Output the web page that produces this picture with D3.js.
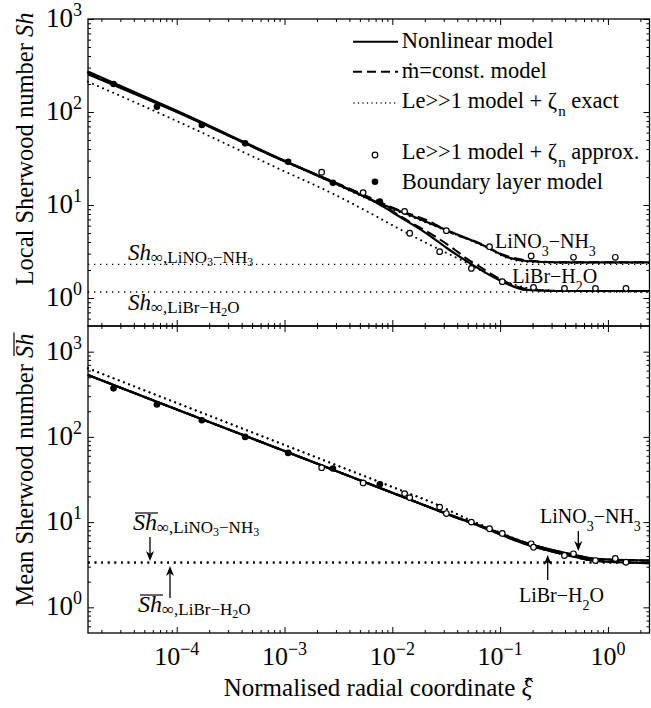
<!DOCTYPE html>
<html><head><meta charset="utf-8">
<script src="https://cdn.jsdelivr.net/npm/d3@7"></script>
<style>
body{margin:0;background:#fff}
svg{display:block}
text{font-family:"Liberation Serif","Times New Roman",serif;fill:#000}
</style>
</head><body>
<svg id="c" width="651" height="708"></svg>
<script>
// ---------------- data ----------------
// Upper panel: local Sherwood number
const xiNonlinNH3 = [1.5e-5, 1e-4, 1e-3, 2.2e-3, 7.1e-3, 0.0145, 0.0317, 0.0744, 0.114, 0.175, 0.355, 2.43];
const shNonlinNH3 = [272, 103, 30, 20, 10.8, 7.8, 5.38, 3.56, 2.78, 2.5, 2.42, 2.42];
const xiNonlinBr = [1.5e-5, 1e-4, 1e-3, 2.2e-3, 7.1e-3, 0.0117, 0.0207, 0.034, 0.056, 0.0857, 0.105, 0.175, 0.35, 2.43];
const shNonlinBr = [255, 100, 29.5, 19.8, 10.6, 7.48, 4.96, 3.28, 2.26, 1.69, 1.5, 1.22, 1.19, 1.19];
const xiConstNH3 = [1.5e-5, 1e-4, 1e-3, 2.2e-3, 7.1e-3, 0.0102, 0.0207, 0.0393, 0.06, 0.1, 0.175, 0.35, 2.43];
const shConstNH3 = [265, 102, 29.8, 20.2, 11.2, 9.3, 6.9, 4.75, 4.03, 3.0, 2.55, 2.43, 2.42];
const xiConstBr = [1.5e-5, 1e-4, 1e-3, 2.2e-3, 7.1e-3, 0.0145, 0.0238, 0.0365, 0.0486, 0.0646, 0.1, 0.175, 0.35, 2.43];
const shConstBr = [262, 101, 29.6, 20, 10.9, 6.6, 4.75, 3.42, 2.67, 2.17, 1.6, 1.25, 1.19, 1.19];
const xiExactBr = [1.5e-5, 1e-4, 1e-3, 2.82e-3, 5.76e-3, 0.0117, 0.0238, 0.0486, 0.0744, 0.122, 0.23, 0.5, 2.43];
const shExactBr = [212, 80, 23, 13.2, 8.6, 5.5, 3.6, 2.4, 1.85, 1.45, 1.23, 1.18, 1.17];
const xiExactNH3 = [1.5e-5, 1e-4, 1e-3, 2.2e-3, 7.1e-3, 0.0145, 0.0317, 0.0744, 0.114, 0.175, 0.355, 2.43];
const shExactNH3 = [268, 101, 29.5, 19.7, 10.6, 7.6, 5.3, 3.5, 2.72, 2.45, 2.38, 2.38];
const shInfLocal = [2.3, 1.16];          // LiNO3-NH3, LiBr-H2O

const xiApproxNH3 = [2.21e-3, 5.36e-3, 0.013, 0.0317, 0.0797, 0.194, 0.479, 1.17];
const shApproxNH3Local = [22.5, 13.6, 8.55, 5.3, 3.56, 2.83, 2.74, 2.74];
const xiApproxBr = [0.0145, 0.0275, 0.0541, 0.1047, 0.204, 0.395, 0.766, 1.47];
const shApproxBrLocal = [4.97, 3.15, 2.08, 1.5, 1.3, 1.27, 1.27, 1.27];
const xiBL = [2.59e-5, 6.55e-5, 1.71e-4, 4.31e-4, 1.08e-3, 2.81e-3, 7.66e-3];
const shBLLocal = [200, 114, 72.4, 46.0, 29.2, 17.3, 10.9];

// Lower panel: mean Sherwood number
const xiMean = [1.5e-5, 1e-4, 1e-3, 2.32e-3, 5.36e-3, 0.0135, 0.0317, 0.0647, 0.186, 0.438, 0.77, 2.43];
const shMeanNonlinNH3 = [532, 210, 68.2, 45.2, 30.0, 19.1, 12.6, 9.14, 5.57, 4.25, 3.7, 3.54];
const shMeanNonlinBr = [532, 210, 68.2, 45.2, 30.0, 19.1, 12.5, 8.95, 5.35, 4.05, 3.5, 3.3];
const shMeanConstNH3 = [532, 210, 68.2, 45.2, 30.0, 19.1, 12.6, 9.14, 5.57, 4.25, 3.7, 3.54];
const shMeanConstBr = [532, 210, 68.2, 45.2, 30.0, 19.1, 12.5, 8.95, 5.35, 4.05, 3.5, 3.3];
const xiMeanExact = [1.5e-5, 1e-4, 1e-3, 5.76e-3, 0.0117, 0.0238, 0.05, 0.1, 0.186, 0.438, 0.77, 2.43];
const shMeanExactBr = [638, 250, 80.4, 33.9, 23.9, 16.8, 10.8, 7.3, 5.35, 4.05, 3.5, 3.3];
const shMeanExactNH3 = [638, 250, 80.4, 33.9, 23.9, 16.8, 10.9, 7.55, 5.57, 4.25, 3.7, 3.54];
const shInfMean = [3.38, 3.32];          // LiNO3-NH3, LiBr-H2O
const shApproxNH3Mean = [43.5, 28.8, 21.6, 12.6, 8.36, 5.57, 4.25, 3.74];
const shApproxBrMean = [19.4, 15.0, 10.0, 7.36, 5.08, 4.06, 3.54, 3.38];
const shBLMean = [371, 240, 157, 100, 64.9, 42.5, 27.8];

// ticks
const xMajor = [1e-4, 1e-3, 1e-2, 1e-1, 1];
const xMajorLabels = ["\u22124", "\u22123", "\u22122", "\u22121", "0"];
const yMajor = [1, 10, 100, 1000];
const yMajorLabels = ["0", "1", "2", "3"];

// ---------------- layout ----------------
const L = 88, R = 649.5, T1 = 19, B1 = 326, T2 = 326, B2 = 633;
const svg = d3.select('#c');
svg.append('rect').attr('width', 651).attr('height', 708).attr('fill', '#fff');

const x = d3.scaleLog().domain([1.503e-5, 2.43]).range([L, R]);
const yTop = d3.scaleLog().domain([0.5, 1000]).range([B1, T1]);
const yBot = d3.scaleLog().domain([0.5, 2000]).range([B2, T2]);

function minorsIn(domain) {
  const out = [];
  for (let k = -6; k <= 4; k++) for (let m = 2; m <= 9; m++) {
    const v = m * Math.pow(10, k);
    if (v > domain[0] * 1.0001 && v < domain[1] * 0.9999) out.push(v);
  }
  return out;
}
const xMinor = minorsIn(x.domain());

function axis(g, gen, vals, size) {
  g.call(gen.tickValues(vals).tickSize(size).tickSizeOuter(0).tickFormat(''))
   .call(s => s.select('.domain').remove())
   .call(s => s.selectAll('line').attr('stroke', '#000').attr('stroke-width', 1));
}

function rich(parent, px, py, parts, anchor) {
  const t = parent.append('text').attr('x', px).attr('y', py).attr('text-anchor', anchor || 'start');
  parts.forEach(p => {
    const s = t.append('tspan').attr('font-size', p[1]).text(p[0]);
    if (p[2]) s.attr('dy', p[2]);
    if (p[3]) s.attr('font-style', 'italic');
    if (p[4]) s.attr('dx', p[4]);
  });
  return t;
}
function overline(parent, t, start, n, off) {
  const a = t.node().getExtentOfChar(start);
  const b = t.node().getExtentOfChar(start + n - 1);
  const x0 = Math.min(a.x, b.x), x1 = Math.max(a.x + a.width, b.x + b.width);
  const y0 = Math.min(a.y, b.y) + off;
  parent.append('line').attr('x1', x0 + 2).attr('x2', x1 + 1)
    .attr('y1', y0).attr('y2', y0).attr('stroke', '#000').attr('stroke-width', 1.2);
}

function panel(y, top, bottom) {
  const yMinor = minorsIn(y.domain());
  const g = svg.append('g');
  axis(g.append('g').attr('transform', `translate(0,${bottom})`), d3.axisBottom(x), xMajor, -6);
  axis(g.append('g').attr('transform', `translate(0,${bottom})`), d3.axisBottom(x), xMinor, -3);
  axis(g.append('g').attr('transform', `translate(0,${top})`), d3.axisTop(x), xMajor, -6);
  axis(g.append('g').attr('transform', `translate(0,${top})`), d3.axisTop(x), xMinor, -3);
  const yMaj = yMajor.filter(v => v >= y.domain()[0] && v <= y.domain()[1]);
  axis(g.append('g').attr('transform', `translate(${L},0)`), d3.axisLeft(y), yMaj, -6);
  axis(g.append('g').attr('transform', `translate(${L},0)`), d3.axisLeft(y), yMinor, -3);
  axis(g.append('g').attr('transform', `translate(${R},0)`), d3.axisRight(y), yMaj, -6);
  axis(g.append('g').attr('transform', `translate(${R},0)`), d3.axisRight(y), yMinor, -3);
  g.append('rect').attr('x', L).attr('y', top).attr('width', R - L).attr('height', bottom - top)
    .attr('fill', 'none').attr('stroke', '#000').attr('stroke-width', 1.3);
  yMajor.forEach((v, i) => {
    if (v < y.domain()[0] || v > y.domain()[1]) return;
    rich(svg, 82, y(v) + 8, [['10', 27], [yMajorLabels[i], 18, -11]], 'end');
  });
}

// ---------------- marks ----------------
function drawLine(y, xs, vs, style) {
  const line = d3.line().x(d => x(d[0])).y(d => y(d[1])).curve(d3.curveMonotoneX);
  const p = svg.append('path').datum(d3.zip(xs, vs)).attr('d', line)
    .attr('fill', 'none').attr('stroke', '#000');
  if (style === 'solid') p.attr('stroke-width', 2.2);
  if (style === 'dash') p.attr('stroke-width', 2).attr('stroke-dasharray', '10,5');
  if (style === 'dot') p.attr('stroke-width', 2).attr('stroke-linecap', 'round').attr('stroke-dasharray', '0.01,5.5');
  return p;
}
function hDotted(y, v, w, dash) {
  svg.append('line').attr('x1', L).attr('x2', R).attr('y1', y(v)).attr('y2', y(v))
    .attr('stroke', '#000').attr('stroke-width', w).attr('stroke-dasharray', dash);
}
function circles(y, xs, vs) {
  svg.append('g').selectAll('circle').data(d3.zip(xs, vs)).join('circle')
    .attr('cx', d => x(d[0])).attr('cy', d => y(d[1])).attr('r', 2.8)
    .attr('fill', '#fff').attr('stroke', '#000').attr('stroke-width', 1.2);
}
function dots(y, xs, vs) {
  svg.append('g').selectAll('circle').data(d3.zip(xs, vs)).join('circle')
    .attr('cx', d => x(d[0])).attr('cy', d => y(d[1])).attr('r', 3.3).attr('fill', '#000');
}
function arrow(ax, y1, y2) {
  const dir = y2 > y1 ? 1 : -1;
  svg.append('line').attr('x1', ax).attr('x2', ax).attr('y1', y1).attr('y2', y2 - dir * 6)
    .attr('stroke', '#000').attr('stroke-width', 1.3);
  svg.append('path').attr('d', `M${ax},${y2} L${ax - 4},${y2 - dir * 10} L${ax},${y2 - dir * 7} L${ax + 4},${y2 - dir * 10} Z`)
    .attr('fill', '#000');
}

panel(yTop, T1, B1);
panel(yBot, T2, B2);

// upper panel curves
shInfLocal.forEach(v => hDotted(yTop, v, 1.3, '1.3,4.7'));
drawLine(yTop, xiExactBr, shExactBr, 'dot');
drawLine(yTop, xiExactNH3, shExactNH3, 'dot');
drawLine(yTop, xiConstNH3, shConstNH3, 'dash');
drawLine(yTop, xiConstBr, shConstBr, 'dash');
drawLine(yTop, xiNonlinNH3, shNonlinNH3, 'solid');
drawLine(yTop, xiNonlinBr, shNonlinBr, 'solid');
circles(yTop, xiApproxNH3, shApproxNH3Local);
circles(yTop, xiApproxBr, shApproxBrLocal);
dots(yTop, xiBL, shBLLocal);

// lower panel curves
shInfMean.forEach(v => hDotted(yBot, v, 1.8, '1.8,4.8'));
drawLine(yBot, xiMeanExact, shMeanExactBr, 'dot');
drawLine(yBot, xiMeanExact, shMeanExactNH3, 'dot');
drawLine(yBot, xiMean, shMeanConstNH3, 'dash');
drawLine(yBot, xiMean, shMeanConstBr, 'dash');
drawLine(yBot, xiMean, shMeanNonlinNH3, 'solid');
drawLine(yBot, xiMean, shMeanNonlinBr, 'solid');
circles(yBot, xiApproxNH3, shApproxNH3Mean);
circles(yBot, xiApproxBr, shApproxBrMean);
dots(yBot, xiBL, shBLMean);

// x tick labels
xMajor.forEach((v, i) => rich(svg, x(v), 665, [['10', 26], [xMajorLabels[i], 18, -10]], 'middle'));

// axis titles
const gy1 = svg.append('g').attr('transform', 'translate(33,149) rotate(-90)');
rich(gy1, 0, 0, [['Local Sherwood number ', 24.5], ['Sh', 24.5, 0, true]], 'middle');
const gy2 = svg.append('g').attr('transform', 'translate(33,470) rotate(-90)');
const ty2 = rich(gy2, 0, 0, [['Mean Sherwood number ', 24.5], ['Sh', 24.5, 0, true]], 'middle');
overline(gy2, ty2, 21, 2, 3);
const tx = rich(svg, 378, 696, [['Normalised radial coordinate ', 25], ['\u03BE', 25, 0, true]], 'middle');
{
  const r = tx.node().getExtentOfChar(29);
  const cx = r.x + r.width / 2 + 2, ty = r.y + 4;
  svg.append('path').attr('d', `M${cx - 4},${ty + 4} L${cx},${ty} L${cx + 4},${ty + 4}`)
    .attr('fill', 'none').attr('stroke', '#000').attr('stroke-width', 1.1);
}

// legend
const lg = svg.append('g');
lg.append('line').attr('x1', 353).attr('x2', 398).attr('y1', 41.7).attr('y2', 41.7).attr('stroke', '#000').attr('stroke-width', 2);
lg.append('line').attr('x1', 353).attr('x2', 398).attr('y1', 71.7).attr('y2', 71.7).attr('stroke', '#000').attr('stroke-width', 2).attr('stroke-dasharray', '9,5');
lg.append('line').attr('x1', 354).attr('x2', 398).attr('y1', 103).attr('y2', 103).attr('stroke', '#000').attr('stroke-width', 1.5).attr('stroke-linecap', 'round').attr('stroke-dasharray', '0.01,4.5');
lg.append('circle').attr('cx', 375).attr('cy', 155).attr('r', 2.8).attr('fill', '#fff').attr('stroke', '#000').attr('stroke-width', 1.2);
lg.append('circle').attr('cx', 375).attr('cy', 181.7).attr('r', 3.3).attr('fill', '#000');
rich(lg, 401.7, 48.3, [['Nonlinear model', 22.5]]);
rich(lg, 401.7, 78.3, [['\u1E41=const. model', 22.5]]);
rich(lg, 401.7, 108.3, [['Le>>1 model + ', 22.5], ['\u03B6', 22.5], ['n', 15, 8, false, 1], [' exact', 22.5, -8]]);
rich(lg, 401.7, 159, [['Le>>1 model + ', 22.5], ['\u03B6', 22.5], ['n', 15, 8, false, 1], [' approx.', 22.5, -8]]);
rich(lg, 401.7, 189, [['Boundary layer model', 22.5]]);

// upper annotations
rich(svg, 128, 260, [['Sh', 23, 0, true], ['\u221E,LiNO', 17, 3], ['3', 12, 3], ['\u2212NH', 17, -3], ['3', 12, 3]]);
rich(svg, 128, 310, [['Sh', 23, 0, true], ['\u221E,LiBr\u2212H', 17, 3], ['2', 12, 3], ['O', 17, -3]]);
rich(svg, 495, 248, [['LiNO', 20], ['3', 14, 8], ['\u2212NH', 20, -8], ['3', 14, 8]]);
rich(svg, 512.3, 283, [['LiBr\u2212H', 20], ['2', 14, 8], ['O', 20, -8]]);

// lower annotations
const l1 = rich(svg, 133, 530, [['Sh', 24, 0, true], ['\u221E,LiNO', 17, 3], ['3', 12, 3], ['\u2212NH', 17, -3], ['3', 12, 3]]);
overline(svg, l1, 0, 2, 4);
const l2 = rich(svg, 138, 612, [['Sh', 24, 0, true], ['\u221E,LiBr\u2212H', 17, 3], ['2', 12, 3], ['O', 17, -3]]);
overline(svg, l2, 0, 2, 4);
arrow(150, 537, 561);
arrow(170, 598, 566);
rich(svg, 540, 523.3, [['LiNO', 20], ['3', 14, 8], ['\u2212NH', 20, -8], ['3', 14, 8]]);
rich(svg, 519, 601.7, [['LiBr\u2212H', 20], ['2', 14, 8], ['O', 20, -8]]);
arrow(578.3, 531, 551);
arrow(547.7, 580, 555);
</script>
</body></html>
